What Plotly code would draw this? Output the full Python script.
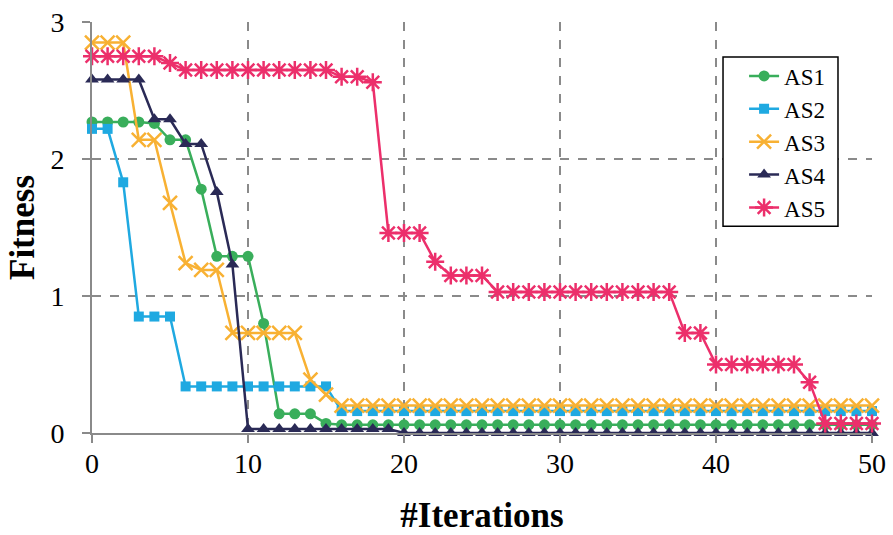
import plotly.graph_objects as go

# Fitness per iteration for five agent settings
iterations = list(range(0, 51))

AS1 = [2.27, 2.27, 2.27, 2.27, 2.26, 2.14, 2.14, 1.78, 1.29, 1.29,
       1.29, 0.80, 0.14, 0.14, 0.14, 0.07, 0.06, 0.06, 0.06, 0.06,
       0.06, 0.06, 0.06, 0.06, 0.06, 0.06, 0.06, 0.06, 0.06, 0.06,
       0.06, 0.06, 0.06, 0.06, 0.06, 0.06, 0.06, 0.06, 0.06, 0.06,
       0.06, 0.06, 0.06, 0.06, 0.06, 0.06, 0.06, 0.06, 0.06, 0.06,
       0.06]

AS2 = [2.22, 2.22, 1.83, 0.85, 0.85, 0.85, 0.34, 0.34, 0.34, 0.34,
       0.34, 0.34, 0.34, 0.34, 0.34, 0.34, 0.16, 0.16, 0.16, 0.16,
       0.16, 0.16, 0.16, 0.16, 0.16, 0.16, 0.16, 0.16, 0.16, 0.16,
       0.16, 0.16, 0.16, 0.16, 0.16, 0.16, 0.16, 0.16, 0.16, 0.16,
       0.16, 0.16, 0.16, 0.16, 0.16, 0.16, 0.16, 0.16, 0.16, 0.16,
       0.16]

AS3 = [2.85, 2.85, 2.85, 2.14, 2.14, 1.68, 1.24, 1.19, 1.19, 0.73,
       0.73, 0.73, 0.73, 0.73, 0.39, 0.28, 0.20, 0.20, 0.20, 0.20,
       0.20, 0.20, 0.20, 0.20, 0.20, 0.20, 0.20, 0.20, 0.20, 0.20,
       0.20, 0.20, 0.20, 0.20, 0.20, 0.20, 0.20, 0.20, 0.20, 0.20,
       0.20, 0.20, 0.20, 0.20, 0.20, 0.20, 0.20, 0.20, 0.20, 0.20,
       0.20]

AS4 = [2.58, 2.58, 2.58, 2.58, 2.29, 2.29, 2.11, 2.11, 1.76, 1.23,
       0.03, 0.03, 0.03, 0.03, 0.03, 0.03, 0.03, 0.03, 0.03, 0.03,
       0.00, 0.00, 0.00, 0.00, 0.00, 0.00, 0.00, 0.00, 0.00, 0.00,
       0.00, 0.00, 0.00, 0.00, 0.00, 0.00, 0.00, 0.00, 0.00, 0.00,
       0.00, 0.00, 0.00, 0.00, 0.00, 0.00, 0.00, 0.00, 0.00, 0.00,
       0.00]

AS5 = [2.75, 2.75, 2.75, 2.75, 2.75, 2.70, 2.65, 2.65, 2.65, 2.65,
       2.65, 2.65, 2.65, 2.65, 2.65, 2.65, 2.60, 2.60, 2.56, 1.46,
       1.46, 1.46, 1.25, 1.15, 1.15, 1.15, 1.03, 1.03, 1.03, 1.03,
       1.03, 1.03, 1.03, 1.03, 1.03, 1.03, 1.03, 1.03, 0.73, 0.73,
       0.50, 0.50, 0.50, 0.50, 0.50, 0.50, 0.37, 0.07, 0.07, 0.07,
       0.07]

series = [
    ("AS1", AS1, "#39AE5B", "circle", 11),
    ("AS2", AS2, "#1FA9E1", "square", 10),
    ("AS3", AS3, "#F8B133", "x-thin-open", 14),
    ("AS4", AS4, "#2A2A56", "triangle-up", 12),
    ("AS5", AS5, "#EC2F6B", "asterisk-open", 15),
]

SERIF = "Liberation Serif, Times New Roman, serif"
GRID = "#8A8A8A"

fig = go.Figure()
for name, values, color, symbol, size in series:
    fig.add_trace(go.Scatter(
        x=iterations, y=values, name=name, mode="lines+markers",
        line=dict(color=color, width=2.5),
        marker=dict(symbol=symbol, size=size, color=color,
                    line=dict(color=color, width=2.5 if "open" in symbol else 0)),
        cliponaxis=False,
    ))

fig.update_layout(
    width=893, height=535,
    margin=dict(l=92, r=21, t=22, b=102, autoexpand=False),
    paper_bgcolor="white", plot_bgcolor="white",
    font=dict(family=SERIF, color="black"),
    showlegend=True,
    legend=dict(
        x=0.836, y=0.921, xanchor="left", yanchor="top",
        bgcolor="rgba(0,0,0,0)", borderwidth=0,
        font=dict(family=SERIF, size=23, color="black"),
        traceorder="normal",
    ),
    # legend frame
    shapes=[dict(type="rect", xref="paper", yref="paper",
                 x0=0.809, x1=0.9564, y0=0.503, y1=0.9148,
                 line=dict(color="black", width=1.5), fillcolor="white",
                 layer="above")],
)

fig.update_xaxes(
    range=[0, 50], tickvals=[0, 10, 20, 30, 40, 50], automargin=False,
    showgrid=True, gridcolor=GRID, gridwidth=1.5, griddash="dash",
    showline=True, linecolor=GRID, linewidth=2, zeroline=False,
    ticks="outside", ticklen=8, tickcolor=GRID, tickwidth=1.5,
    ticklabelstandoff=-4,
    tickfont=dict(family=SERIF, size=28, color="black"),
    title=dict(text="<b>#Iterations</b>", standoff=27,
               font=dict(family=SERIF, size=35, color="black")),
)

fig.update_yaxes(
    range=[0, 3], tickvals=[0, 1, 2, 3], automargin=False,
    showgrid=True, gridcolor=GRID, gridwidth=1.5, griddash="dash",
    showline=True, linecolor=GRID, linewidth=2, zeroline=False,
    ticks="outside", ticklen=8, tickcolor=GRID, tickwidth=1.5,
    ticklabelstandoff=12,
    tickfont=dict(family=SERIF, size=28, color="black"),
    title=dict(text="<b>Fitness</b>", standoff=5,
               font=dict(family=SERIF, size=35, color="black")),
)

fig.write_html("out.html")
